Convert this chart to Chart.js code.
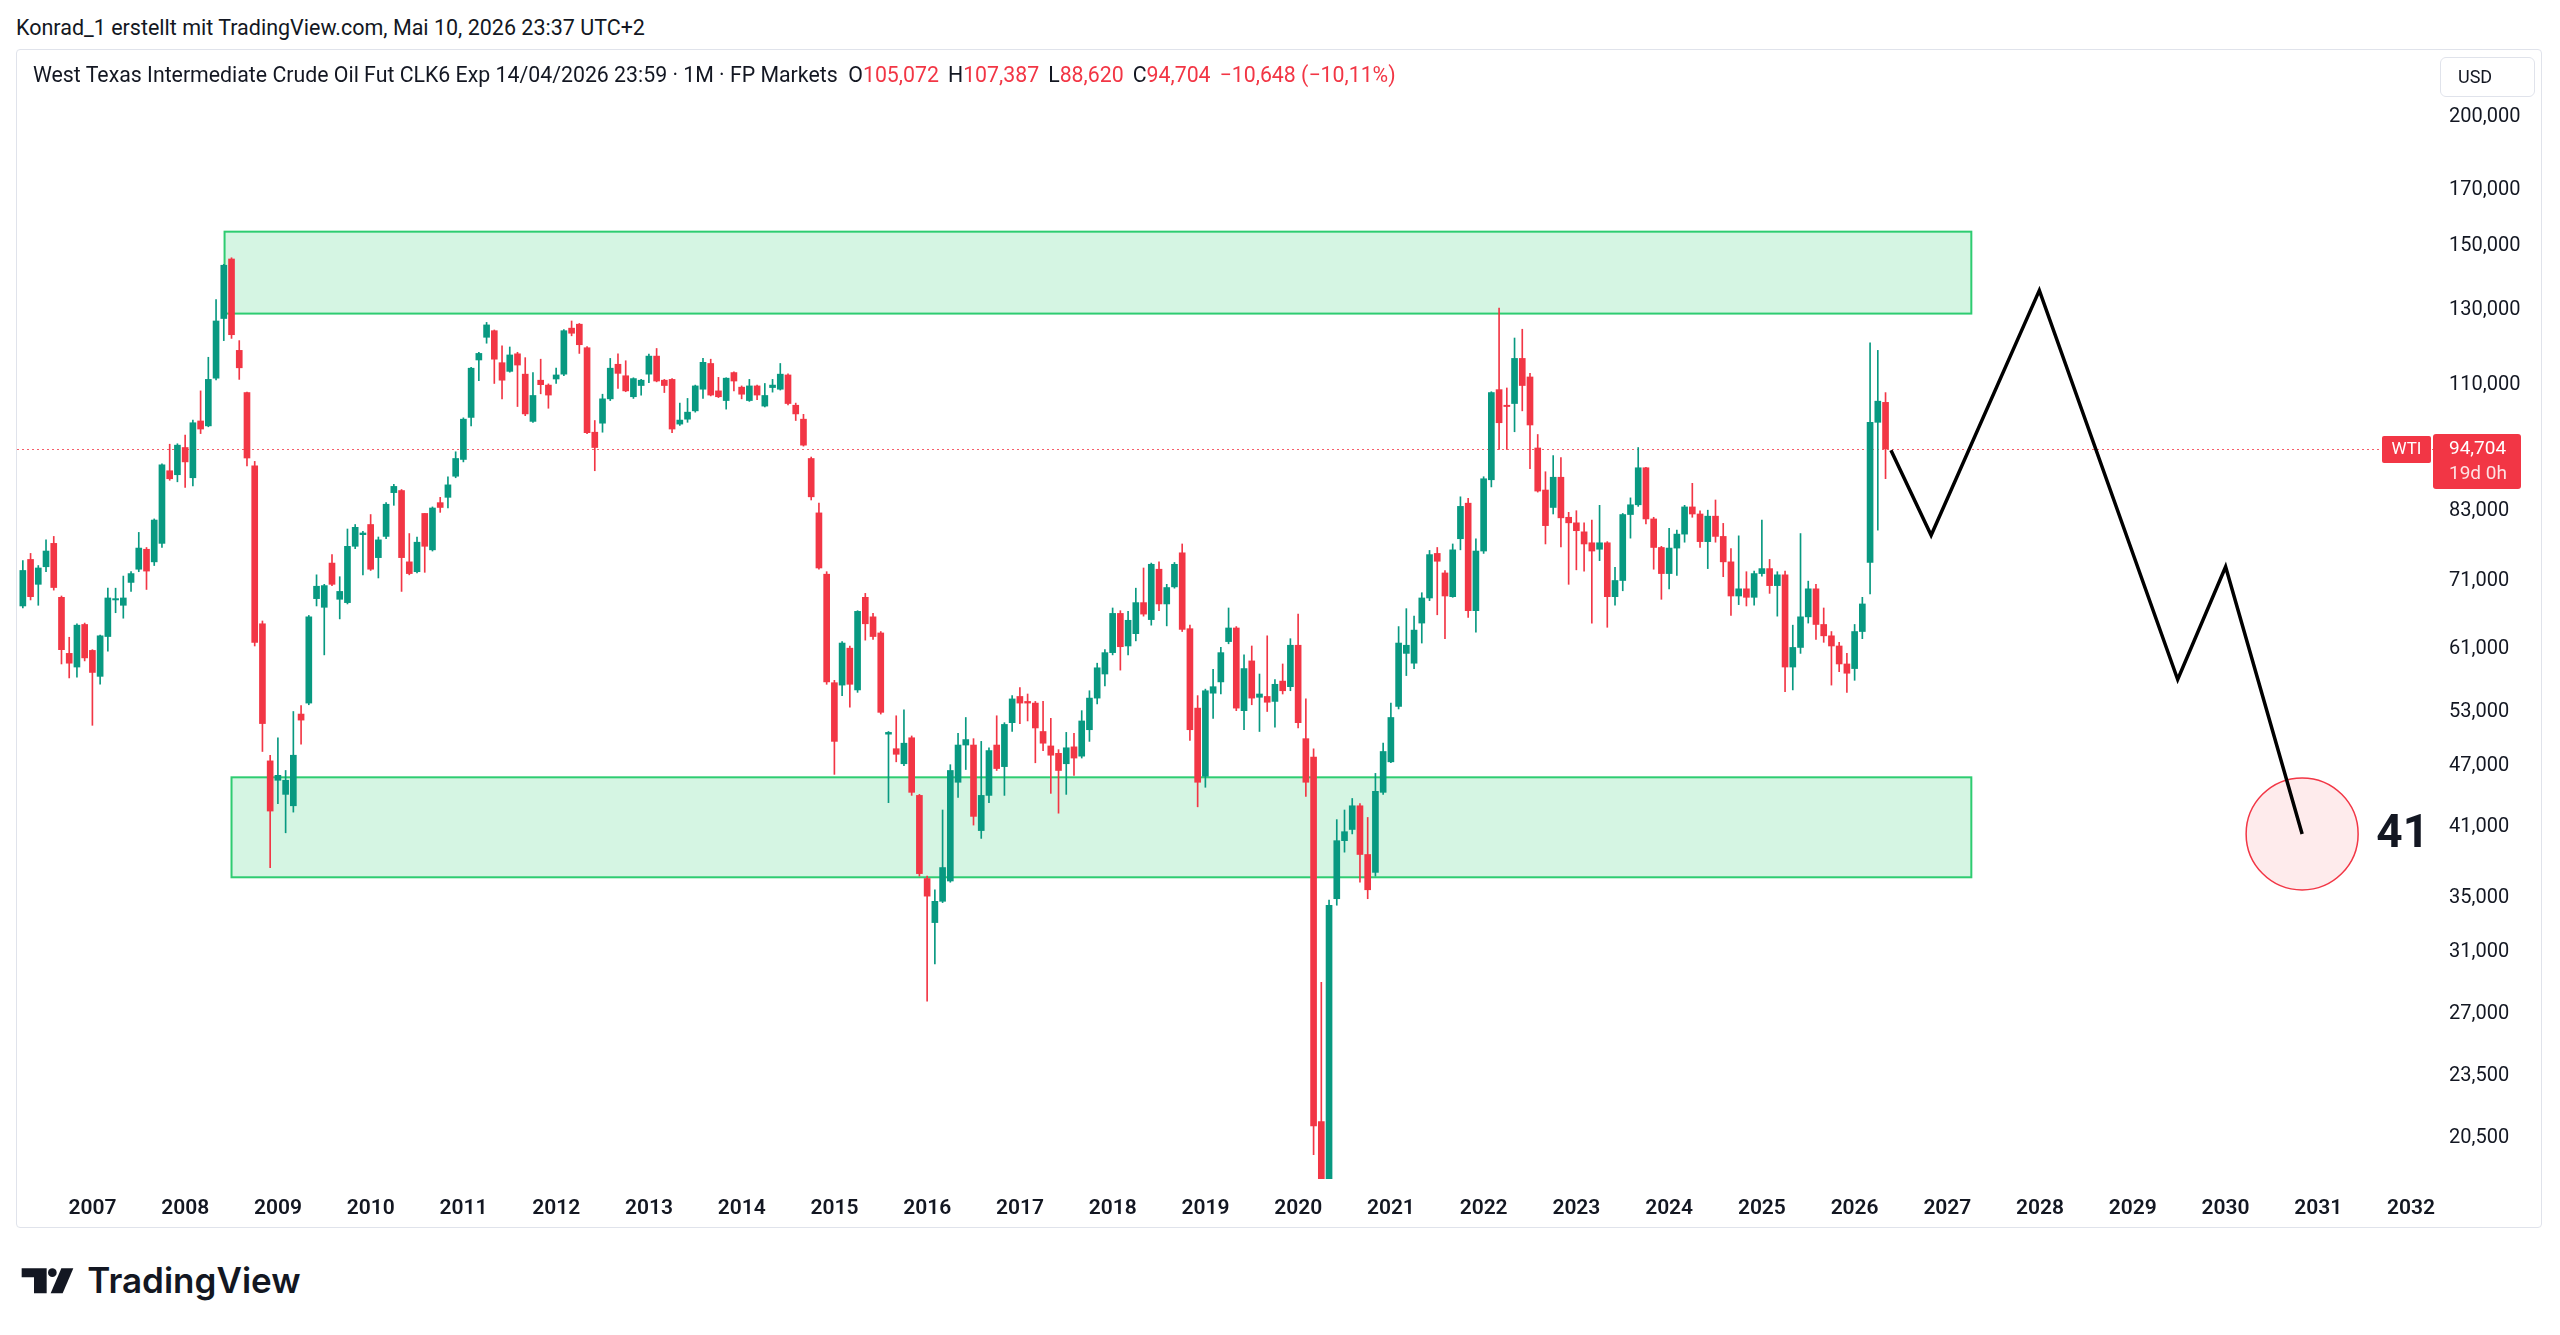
<!DOCTYPE html>
<html>
<head>
<meta charset="utf-8">
<script src="https://cdn.jsdelivr.net/npm/chart.js@4.4.0/dist/chart.umd.min.js"></script>
<style>
  html, body { margin: 0; padding: 0; background: #fff; }
  body { width: 2560px; height: 1335px; position: relative; overflow: hidden;
         font-family: Roboto, "Noto Sans", sans-serif; color: #131722; }
  .byline { position: absolute; left: 16px; top: 15px; font-size: 21.5px; line-height: 26px; }
  .panel { position: absolute; left: 16px; top: 49px; width: 2524px; height: 1177px;
           border: 1px solid #e0e3eb; border-radius: 4px; }
  .panel canvas { position: absolute; left: 0; top: 0; }
  .legend { position: absolute; left: 16px; top: 12px; font-size: 21.3px; line-height: 26px; white-space: nowrap; }
  .legend .v { color: #F23645; margin-right: 9px; }
  .usd { position: absolute; left: 2423px; top: 7px; width: 76px; height: 38px; border: 1px solid #e0e3eb;
         border-radius: 6px; font-size: 18px; line-height: 38px; padding-left: 17px; }
  .logo { position: absolute; left: 0; top: 1240px; }
</style>
</head>
<body>
<div class="byline">Konrad_1 erstellt mit TradingView.com, Mai 10, 2026 23:37 UTC+2</div>
<div class="panel">
  <canvas id="chart" width="2524" height="1177"></canvas>
  <div class="legend" id="legend"></div>
  <div class="usd">USD</div>
</div>
<svg class="logo" width="400" height="80" viewBox="0 0 1200 240">
  <path d="M65 85 H140 V160 H102 V112 H65 Z" fill="#131722"/>
  <circle cx="157" cy="98" r="13" fill="#131722"/>
  <path d="M184 85 H220 L188 160 H152 Z" fill="#131722"/>
  <text x="262" y="160" font-family="Inter, Roboto, sans-serif" font-weight="600" font-size="105" fill="#131722">TradingView</text>
</svg>

<script>
// monthly candles, Apr 2006 .. May 2026; x counts months from Jan 2007
const firstMonth = -9;
const yearLabels = ['2007','2008','2009','2010','2011','2012','2013','2014','2015','2016','2017','2018','2019',
  '2020','2021','2022','2023','2024','2025','2026','2027','2028','2029','2030','2031','2032'];
const priceTicks = [200, 170, 150, 130, 110, 83, 71, 61, 53, 47, 41, 35, 31, 27, 23.5, 20.5];

const opens = [
  66.7, 74.0, 70.0, 72.8, 76.7, 68.0, 60.0, 58.2, 64.0,
  60.4, 57.0, 62.3, 67.6, 66.8, 70.3, 72.4, 75.7, 73.6, 76.7, 90.2, 89.4,
  95.0, 88.8, 100.8, 99.7, 110.9, 126.7, 144.7, 118.0, 107.4, 91.2, 64.1, 47.2,
  45.2, 43.8, 42.7, 52.4, 53.7, 67.8, 66.5, 73.4, 67.7, 67.2, 76.2, 78.2,
  80.0, 74.3, 77.9, 85.9, 86.3, 73.6, 72.0, 82.0, 75.6, 84.0, 85.0, 89.1,
  92.5, 101.6, 115.5, 121.5, 123.3, 114.8, 112.6, 117.1, 111.9, 100.7, 110.4, 109.2,
  110.7, 111.9, 124.0, 125.1, 118.7, 98.3, 100.3, 105.9, 114.4, 111.5, 106.4, 109.1,
  111.9, 116.5, 110.4, 110.6, 100.1, 101.2, 103.1, 108.2, 114.6, 107.8, 105.5, 112.3,
  108.7, 105.5, 109.0, 104.2, 108.6, 108.2, 111.7, 104.4, 101.2, 92.7, 82.1, 71.6,
  56.2, 55.9, 60.7, 55.3, 68.0, 65.1, 62.8, 50.1, 48.5, 46.9, 49.7, 43.7,
  36.3, 32.9, 34.5, 36.1, 45.0, 48.9, 48.9, 40.4, 43.7, 48.9, 46.6, 51.4,
  54.5, 53.9, 53.7, 50.4, 48.8, 48.0, 46.9, 48.7, 47.7, 50.6, 54.3, 57.3,
  60.1, 65.6, 61.0, 62.7, 67.2, 64.7, 72.4, 67.0, 69.6, 75.1, 63.4, 53.1,
  45.6, 54.9, 56.3, 61.6, 63.5, 52.8, 59.0, 54.4, 54.5, 53.9, 56.4, 55.7,
  61.1, 49.6, 47.6, 21.1, 12.0, 34.7, 39.5, 40.5, 42.7, 38.3, 36.8, 44.0,
  47.1, 53.3, 60.0, 58.7, 64.2, 67.9, 75.0, 71.8, 68.1, 77.5, 83.9, 66.0,
  75.4, 88.4, 108.1, 104.4, 104.8, 115.9, 111.2, 94.9, 86.4, 83.1, 88.9, 81.3,
  80.3, 78.7, 76.8, 75.7, 76.8, 68.1, 70.6, 81.8, 83.6, 90.8, 81.0, 76.0,
  71.7, 75.9, 78.3, 83.2, 81.9, 77.0, 81.5, 77.9, 73.6, 68.2, 69.3, 68.0,
  71.7, 72.5, 69.8, 71.5, 58.2, 60.8, 65.1, 69.3, 64.0, 62.4, 61.0, 58.6,
  58.0, 63.0, 73.5, 100.5, 105.072
];
const highs = [
  73.8, 75.0, 73.0, 77.3, 77.9, 68.2, 62.2, 64.1, 64.2,
  60.5, 62.5, 69.4, 69.4, 71.3, 72.0, 78.6, 76.0, 81.0, 91.6, 95.7, 95.8,
  97.7, 101.0, 107.8, 116.2, 132.2, 143.0, 145.1, 120.6, 107.5, 92.1, 64.5, 47.8,
  49.7, 46.2, 52.7, 53.4, 65.3, 71.5, 70.0, 74.8, 71.2, 79.2, 80.0, 78.8,
  81.8, 77.8, 84.0, 87.5, 86.5, 78.4, 77.8, 82.0, 83.2, 85.0, 89.0, 94.1,
  101.5, 113.6, 117.5, 125.6, 123.5, 119.2, 118.9, 117.5, 116.1, 112.3, 115.7, 109.5,
  113.4, 123.6, 126.0, 125.3, 119.0, 100.9, 107.0, 115.9, 117.1, 115.3, 111.0, 110.6,
  117.0, 118.5, 110.6, 110.8, 104.9, 106.0, 109.2, 115.9, 115.7, 111.1, 111.0, 112.5,
  109.0, 110.6, 109.2, 109.6, 110.6, 114.6, 112.0, 104.9, 102.3, 93.0, 83.9, 72.0,
  56.5, 61.6, 61.0, 66.0, 68.6, 65.6, 63.0, 50.4, 52.2, 52.9, 49.9, 43.8,
  36.5, 35.4, 42.3, 46.8, 50.2, 52.0, 49.6, 49.3, 48.6, 52.2, 51.4, 54.6,
  55.6, 54.8, 53.9, 53.9, 51.9, 48.4, 50.3, 50.2, 52.8, 55.2, 58.7, 60.5,
  66.4, 66.0, 65.9, 69.4, 72.6, 73.4, 73.6, 70.0, 73.5, 76.6, 63.9, 54.6,
  55.4, 57.9, 60.8, 66.4, 63.7, 59.8, 61.0, 57.3, 62.4, 56.6, 58.6, 62.0,
  65.5, 54.2, 48.5, 28.8, 34.6, 41.4, 42.3, 43.4, 42.9, 41.6, 45.9, 49.1,
  53.7, 63.7, 66.3, 65.2, 68.7, 75.5, 76.0, 72.2, 76.6, 85.1, 84.8, 77.5,
  89.0, 107.6, 129.7, 108.5, 121.3, 123.7, 112.1, 97.8, 90.0, 93.3, 92.9, 82.2,
  82.5, 80.3, 80.8, 83.5, 77.0, 72.7, 82.0, 84.9, 95.0, 90.9, 81.3, 76.2,
  79.3, 79.0, 83.5, 87.7, 82.5, 82.6, 84.5, 80.2, 75.8, 78.0, 72.0, 72.1,
  80.8, 74.0, 72.0, 72.1, 63.9, 78.4, 70.5, 70.0, 66.4, 63.0, 61.5, 60.0,
  64.0, 68.0, 120.0, 118.0, 107.387
];
const lows = [
  66.4, 67.6, 66.8, 72.0, 69.1, 58.6, 56.8, 56.9, 59.0,
  51.1, 56.0, 60.3, 65.7, 64.9, 68.9, 72.0, 69.2, 73.0, 76.0, 88.3, 88.0,
  86.9, 87.2, 98.0, 99.5, 110.5, 120.6, 121.2, 110.6, 91.2, 61.0, 48.2, 37.2,
  42.9, 40.2, 42.1, 49.0, 53.5, 66.7, 59.8, 69.8, 64.8, 67.0, 75.8, 71.5,
  72.2, 71.0, 77.5, 83.5, 68.9, 71.5, 71.8, 71.9, 75.4, 82.2, 83.0, 88.8,
  92.0, 99.7, 110.3, 119.9, 109.6, 105.9, 112.4, 104.1, 102.0, 100.5, 107.1, 103.7,
  109.6, 111.5, 121.9, 117.2, 98.0, 90.2, 98.3, 105.5, 108.4, 107.6, 106.0, 106.8,
  109.8, 110.0, 107.4, 98.2, 99.8, 100.5, 102.8, 106.0, 106.6, 106.2, 103.5, 107.8,
  105.9, 105.3, 105.7, 104.0, 107.5, 108.0, 104.5, 100.9, 95.3, 84.5, 72.4, 56.0,
  45.8, 54.6, 53.2, 55.0, 61.8, 61.9, 52.4, 43.0, 47.1, 46.7, 43.7, 36.5,
  27.6, 30.0, 34.4, 36.0, 43.5, 46.3, 40.9, 39.7, 43.0, 46.2, 43.7, 50.4,
  51.3, 51.6, 47.0, 48.3, 43.9, 42.0, 43.8, 45.7, 47.5, 49.3, 53.6, 55.8,
  59.8, 57.8, 59.8, 61.7, 65.2, 63.9, 66.0, 63.8, 69.4, 63.0, 49.4, 42.6,
  44.5, 51.9, 54.8, 61.3, 52.8, 50.6, 53.5, 50.4, 52.7, 50.9, 54.8, 55.2,
  50.8, 43.6, 19.6, 8.0, 10.0, 34.2, 38.5, 40.1, 36.0, 34.7, 36.5, 43.8,
  47.0, 53.0, 57.1, 58.0, 61.4, 67.5, 65.4, 62.0, 68.0, 75.6, 65.0, 62.9,
  75.0, 87.0, 94.6, 94.6, 98.4, 103.1, 90.6, 86.0, 76.6, 81.9, 76.1, 70.0,
  72.3, 72.1, 64.2, 73.8, 63.6, 66.8, 69.0, 77.6, 83.3, 80.1, 72.4, 67.7,
  69.3, 71.4, 76.9, 81.3, 76.0, 72.5, 76.9, 71.2, 65.3, 66.9, 66.7, 66.8,
  71.3, 68.6, 65.2, 55.1, 55.3, 60.0, 64.2, 61.9, 61.5, 55.9, 57.6, 55.0,
  56.5, 62.0, 68.5, 79.0, 88.620
];
const closes = [
  72.2, 68.1, 72.6, 75.4, 69.5, 60.5, 58.7, 63.9, 59.4,
  57.5, 62.4, 67.9, 67.8, 67.9, 71.7, 75.9, 72.1, 80.8, 91.4, 88.6, 95.5,
  92.0, 100.4, 99.0, 110.6, 126.0, 142.7, 122.2, 113.5, 92.8, 61.5, 51.3, 42.2,
  45.7, 45.2, 47.8, 51.7, 65.1, 69.7, 69.8, 70.0, 68.9, 76.2, 79.5, 78.5,
  72.4, 77.3, 83.7, 87.1, 74.3, 71.7, 76.9, 76.2, 83.0, 83.1, 87.4, 92.7,
  101.2, 113.4, 117.2, 124.9, 115.7, 110.4, 116.8, 114.2, 102.4, 106.7, 109.3, 106.8,
  111.7, 123.3, 122.6, 119.5, 98.2, 95.0, 105.9, 113.4, 112.1, 107.8, 110.8, 110.4,
  116.5, 110.2, 109.1, 99.0, 101.0, 102.8, 109.0, 114.9, 106.8, 106.4, 110.9, 110.2,
  107.0, 109.0, 106.8, 106.7, 109.2, 111.9, 104.8, 102.4, 95.5, 85.1, 72.6, 56.3,
  49.3, 61.4, 56.0, 65.9, 64.1, 62.3, 52.6, 50.3, 47.9, 49.1, 44.0, 36.7,
  34.9, 34.5, 37.2, 46.2, 48.9, 49.5, 41.7, 43.7, 48.3, 46.4, 51.2, 54.2,
  53.7, 53.7, 50.8, 49.1, 47.8, 46.2, 48.6, 47.5, 51.6, 54.3, 58.1, 60.1,
  65.6, 60.9, 64.6, 67.2, 65.5, 73.2, 67.0, 69.5, 73.2, 63.3, 50.6, 45.0,
  55.2, 55.7, 60.1, 63.5, 53.1, 58.0, 54.3, 54.8, 53.8, 56.0, 55.2, 61.1,
  51.4, 45.0, 20.9, 12.0, 34.2, 39.5, 40.3, 42.7, 38.3, 35.4, 44.1, 48.2,
  52.0, 61.4, 61.1, 63.2, 67.9, 74.8, 73.7, 68.2, 75.6, 83.3, 66.0, 75.4,
  88.6, 107.4, 100.4, 104.1, 115.9, 109.1, 99.9, 86.2, 79.8, 88.9, 81.2, 80.3,
  78.9, 76.6, 75.4, 76.8, 68.1, 70.6, 81.8, 83.6, 90.8, 81.0, 76.0, 71.7,
  75.9, 78.3, 83.2, 81.9, 77.0, 81.5, 77.9, 73.6, 68.2, 69.3, 68.0, 71.7,
  72.5, 69.8, 71.5, 58.2, 60.8, 65.1, 69.3, 64.0, 62.4, 61.0, 58.6, 57.4,
  63.0, 67.0, 100.5, 105.352, 94.704
];

// drawn zones (month from / to, price top / bottom)
const zoneFrom = [17.1, 18.0];
const zoneTo = [243.1, 243.1];
const zoneTop = [153.8, 45.5];
const zoneBottom = [128.1, 36.4];

// projected path and target
const pathMonths = [232.7, 237.9, 251.9, 269.8, 276.0, 285.9];
const pathPrices = [94.4, 78.1, 134.9, 56.6, 72.8, 40.1];
const targetMonth = 285.9, targetPrice = 40.1, targetText = '41', targetTextMonth = 295.5;

const UP = '#089981', DOWN = '#F23645';
const n = closes.length;
const last = n - 1;
const fmt = v => v.toFixed(3).replace('.', ',');
const minus = s => s.replace('-', '\u2212');

// legend
const chg = closes[last] - closes[last - 1];
const pct = chg / closes[last - 1] * 100;
document.getElementById('legend').innerHTML =
  'West Texas Intermediate Crude Oil Fut CLK6 Exp 14/04/2026 23:59 \u00b7 1M \u00b7 FP Markets&nbsp;&nbsp;' +
  'O<span class="v">' + fmt(opens[last]) + '</span>' +
  'H<span class="v">' + fmt(highs[last]) + '</span>' +
  'L<span class="v">' + fmt(lows[last]) + '</span>' +
  'C<span class="v">' + fmt(closes[last]) + '</span>' +
  '<span class="v">' + minus(fmt(chg)) + ' (' + minus(pct.toFixed(2).replace('.', ',')) + '%)</span>';

const xs = closes.map((_, k) => firstMonth + k);
const colors = closes.map((c, k) => c >= opens[k] ? UP : DOWN);

// keep the plot area flush with the panel edges
const noPad = s => { s.paddingTop = 0; s.paddingBottom = 0; s.paddingLeft = 0; s.paddingRight = 0; };

const overlay = {
  id: 'overlay',
  beforeDatasetsDraw(chart) {
    const { ctx, chartArea: a, scales: { x, y } } = chart;
    ctx.save();
    ctx.beginPath();
    ctx.rect(a.left, a.top, a.right - a.left, a.bottom - a.top);
    ctx.clip();
    zoneFrom.forEach((f, k) => {
      const x0 = x.getPixelForValue(f), x1 = x.getPixelForValue(zoneTo[k]);
      const y0 = y.getPixelForValue(zoneTop[k]), y1 = y.getPixelForValue(zoneBottom[k]);
      ctx.fillStyle = 'rgba(46, 204, 113, 0.2)';
      ctx.fillRect(x0, y0, x1 - x0, y1 - y0);
      ctx.strokeStyle = '#2ecc71';
      ctx.lineWidth = 2;
      ctx.strokeRect(x0, y0, x1 - x0, y1 - y0);
    });
    // last price line
    const py = Math.round(y.getPixelForValue(closes[last])) + 0.5;
    ctx.strokeStyle = 'rgba(242, 54, 69, 0.8)';
    ctx.lineWidth = 1;
    ctx.setLineDash([2, 3]);
    ctx.beginPath();
    ctx.moveTo(a.left, py);
    ctx.lineTo(a.right, py);
    ctx.stroke();
    ctx.restore();
  },
  afterDraw(chart) {
    const { ctx, scales: { x, y } } = chart;
    ctx.save();
    // target label
    ctx.fillStyle = '#131722';
    ctx.font = 'bold 46px Roboto, sans-serif';
    ctx.textAlign = 'left';
    ctx.textBaseline = 'middle';
    ctx.fillText(targetText, x.getPixelForValue(targetTextMonth), y.getPixelForValue(targetPrice) + 2);

    // price tags on the scale
    const py = y.getPixelForValue(closes[last]);
    const col = colors[last];
    ctx.fillStyle = col;
    ctx.beginPath();
    ctx.roundRect(2365, py - 13, 49, 27, 2);
    ctx.fill();
    ctx.beginPath();
    ctx.roundRect(2416, py - 15, 88, 55, 3);
    ctx.fill();
    ctx.fillStyle = '#fff';
    ctx.font = '17px Roboto, sans-serif';
    ctx.textAlign = 'center';
    ctx.fillText('WTI', 2389.5, py + 1);
    ctx.textAlign = 'left';
    ctx.font = '19px Roboto, sans-serif';
    ctx.fillText(fmt(closes[last]), 2432, py);
    ctx.fillStyle = 'rgba(255,255,255,0.85)';
    ctx.fillText('19d 0h', 2432, py + 25);
    ctx.restore();
  }
};

new Chart(document.getElementById('chart'), {
  type: 'bar',
  data: {
    datasets: [
      {
        type: 'line',
        data: pathMonths.map((m, k) => ({ x: m, y: pathPrices[k] })),
        borderColor: '#000',
        borderWidth: 3.5,
        pointRadius: 0,
        order: 0
      },
      {
        type: 'scatter',
        data: [{ x: targetMonth, y: targetPrice }],
        radius: 56,
        backgroundColor: 'rgba(242, 54, 69, 0.1)',
        borderColor: '#F23645',
        borderWidth: 1.5,
        order: 0
      },
      {
        data: xs.map((m, k) => ({ x: m, y: [opens[k], closes[k]] })),
        backgroundColor: colors,
        barThickness: 6,
        minBarLength: 1,
        grouped: false,
        order: 1
      },
      {
        data: xs.map((m, k) => ({ x: m, y: [lows[k], highs[k]] })),
        backgroundColor: colors,
        barThickness: 1,
        grouped: false,
        order: 2
      }
    ]
  },
  options: {
    responsive: false,
    devicePixelRatio: 1,
    animation: false,
    events: [],
    layout: { padding: 0, autoPadding: false },
    plugins: { legend: { display: false }, tooltip: { enabled: false } },
    scales: {
      x: {
        type: 'linear',
        min: -9.755,
        max: 303.22,
        offset: false,
        grid: { display: false },
        border: { display: false },
        afterBuildTicks: s => { s.ticks = yearLabels.map((_, j) => ({ value: j * 12 })); },
        afterFit: s => { s.height = 48; noPad(s); },
        ticks: {
          autoSkip: false,
          maxRotation: 0,
          padding: 9,
          color: '#131722',
          font: { family: 'Roboto', size: 21, weight: '600' },
          callback: v => yearLabels[Math.round(v / 12)]
        }
      },
      y: {
        type: 'logarithmic',
        position: 'right',
        min: 18.562,
        max: 230.71,
        grid: { display: false },
        border: { display: false },
        afterBuildTicks: s => { s.ticks = priceTicks.map(v => ({ value: v })); },
        afterFit: s => { s.width = 105; noPad(s); },
        ticks: {
          autoSkip: false,
          padding: 5,
          labelOffset: 3,
          color: '#131722',
          font: { family: 'Roboto', size: 20 },
          callback: v => fmt(v)
        }
      }
    }
  },
  plugins: [overlay]
});
</script>
</body>
</html>
